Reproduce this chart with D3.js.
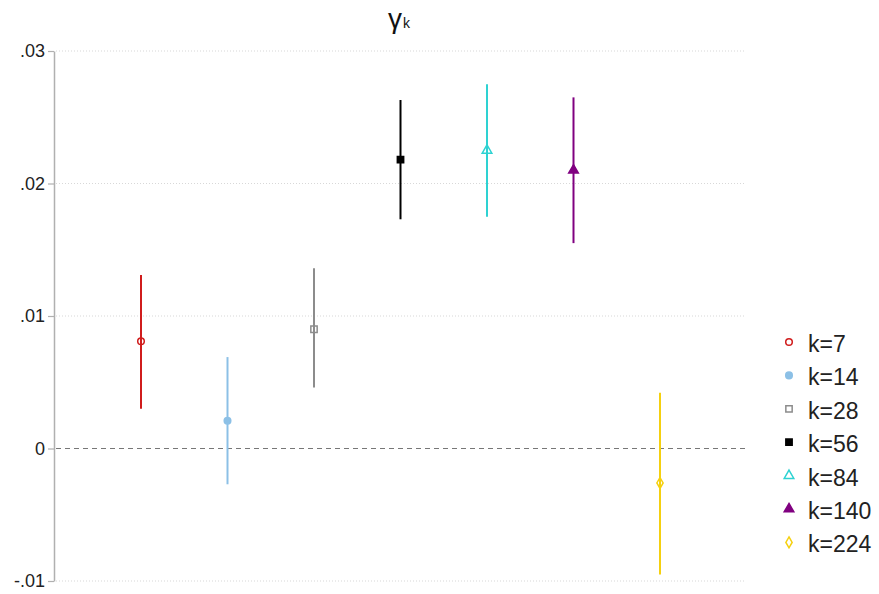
<!DOCTYPE html>
<html>
<head>
<meta charset="utf-8">
<script src="https://cdn.jsdelivr.net/npm/d3@7"></script>
<style>
  html, body { margin: 0; padding: 0; background: #fff; }
  svg { display: block; font-family: "Liberation Sans", Arial, sans-serif; }
</style>
</head>
<body>
<svg id="chart" width="879" height="594"></svg>
<script>
// Estimates of gamma_k with confidence intervals, one per horizon k
const labels = ["k=7", "k=14", "k=28", "k=56", "k=84", "k=140", "k=224"];
const estimates = [0.0081, 0.0021, 0.0090, 0.0218, 0.0225, 0.0210, -0.0026];
const lowers = [0.0030, -0.0027, 0.0046, 0.0173, 0.0175, 0.0155, -0.0095];
const uppers = [0.0131, 0.0069, 0.0136, 0.0263, 0.0275, 0.0265, 0.0042];
const colors = ["#d01c1c", "#8cc0e6", "#8c8c8c", "#000000", "#2ed2d2", "#800080", "#f5d00f"];
const symbols = ["circle", "circle", "square", "square", "triangle", "triangle", "diamond"];
const filled = [false, true, false, true, false, true, false];
const yTicks = [-0.01, 0, 0.01, 0.02, 0.03];
const yTickLabels = ["-.01", "0", ".01", ".02", ".03"];

const svg = d3.select("#chart");

const x = d3.scaleLinear().domain([0, 8]).range([54.5, 746.5]);
const y = d3.scaleLinear().domain([-0.01, 0.03]).range([581, 51]);

const symType = {
  circle: d3.symbolCircle,
  square: d3.symbolSquare,
  triangle: d3.symbolTriangle,
  diamond: d3.symbolDiamond
};
const symSize = { circle: 34, square: 40, triangle: 40, diamond: 34 };

// dotted grid
svg.append("g")
  .selectAll("line")
  .data(yTicks.filter(t => t !== 0))
  .join("line")
  .attr("x1", 56).attr("x2", 746)
  .attr("y1", d => y(d)).attr("y2", d => y(d))
  .attr("stroke", "#d8d8d8")
  .attr("stroke-width", 1.2)
  .attr("stroke-dasharray", "1,2");

// zero reference line
svg.append("line")
  .attr("x1", 56).attr("x2", 746)
  .attr("y1", y(0)).attr("y2", y(0))
  .attr("stroke", "#777")
  .attr("stroke-width", 1.2)
  .attr("stroke-dasharray", "5,4");

// y axis
const yAxis = d3.axisLeft(y)
  .tickValues(yTicks)
  .tickFormat(d => yTickLabels[yTicks.indexOf(d)])
  .tickSize(6)
  .tickSizeOuter(0);
const ag = svg.append("g").attr("transform", "translate(54,0)").call(yAxis);
ag.attr("font-size", null).attr("font-family", null);
ag.select(".domain").attr("stroke", "#b0b0b0").attr("stroke-width", 1.5);
ag.selectAll(".tick line").attr("stroke", "#b0b0b0").attr("stroke-width", 1.2);
ag.selectAll(".tick text")
  .style("font-size", "18px")
  .attr("fill", "#222")
  .attr("x", -9);

// markers then whiskers (whiskers drawn over markers)
const idx = d3.range(labels.length);
svg.append("g")
  .selectAll("path")
  .data(idx)
  .join("path")
  .attr("transform", i => `translate(${x(i + 1)},${y(estimates[i])})`)
  .attr("d", i => d3.symbol(symType[symbols[i]], symSize[symbols[i]])())
  .attr("fill", i => filled[i] ? colors[i] : "#fff")
  .attr("stroke", i => colors[i])
  .attr("stroke-width", 1.5);

svg.append("g")
  .selectAll("line")
  .data(idx)
  .join("line")
  .attr("x1", i => x(i + 1)).attr("x2", i => x(i + 1))
  .attr("y1", i => y(lowers[i])).attr("y2", i => y(uppers[i]))
  .attr("stroke", i => colors[i])
  .attr("stroke-width", 2);

// title: gamma with subscript k
const title = svg.append("text")
  .attr("x", 388).attr("y", 28)
  .attr("fill", "#111");
title.append("tspan").style("font-size", "28px").text("γ");
title.append("tspan").style("font-size", "14px").attr("dx", 1).text("k");

// legend
const lg = svg.append("g")
  .selectAll("g")
  .data(idx)
  .join("g")
  .attr("transform", i => `translate(789,${344 + i * 33.4})`);
lg.append("path")
  .attr("transform", "translate(0,-2)")
  .attr("d", i => d3.symbol(symType[symbols[i]], symSize[symbols[i]])())
  .attr("fill", i => filled[i] ? colors[i] : "#fff")
  .attr("stroke", i => colors[i])
  .attr("stroke-width", 1.5);
lg.append("text")
  .attr("x", 19).attr("dy", "0.35em")
  .style("font-size", "23px")
  .attr("fill", "#222")
  .text(i => labels[i]);
</script>
</body>
</html>
